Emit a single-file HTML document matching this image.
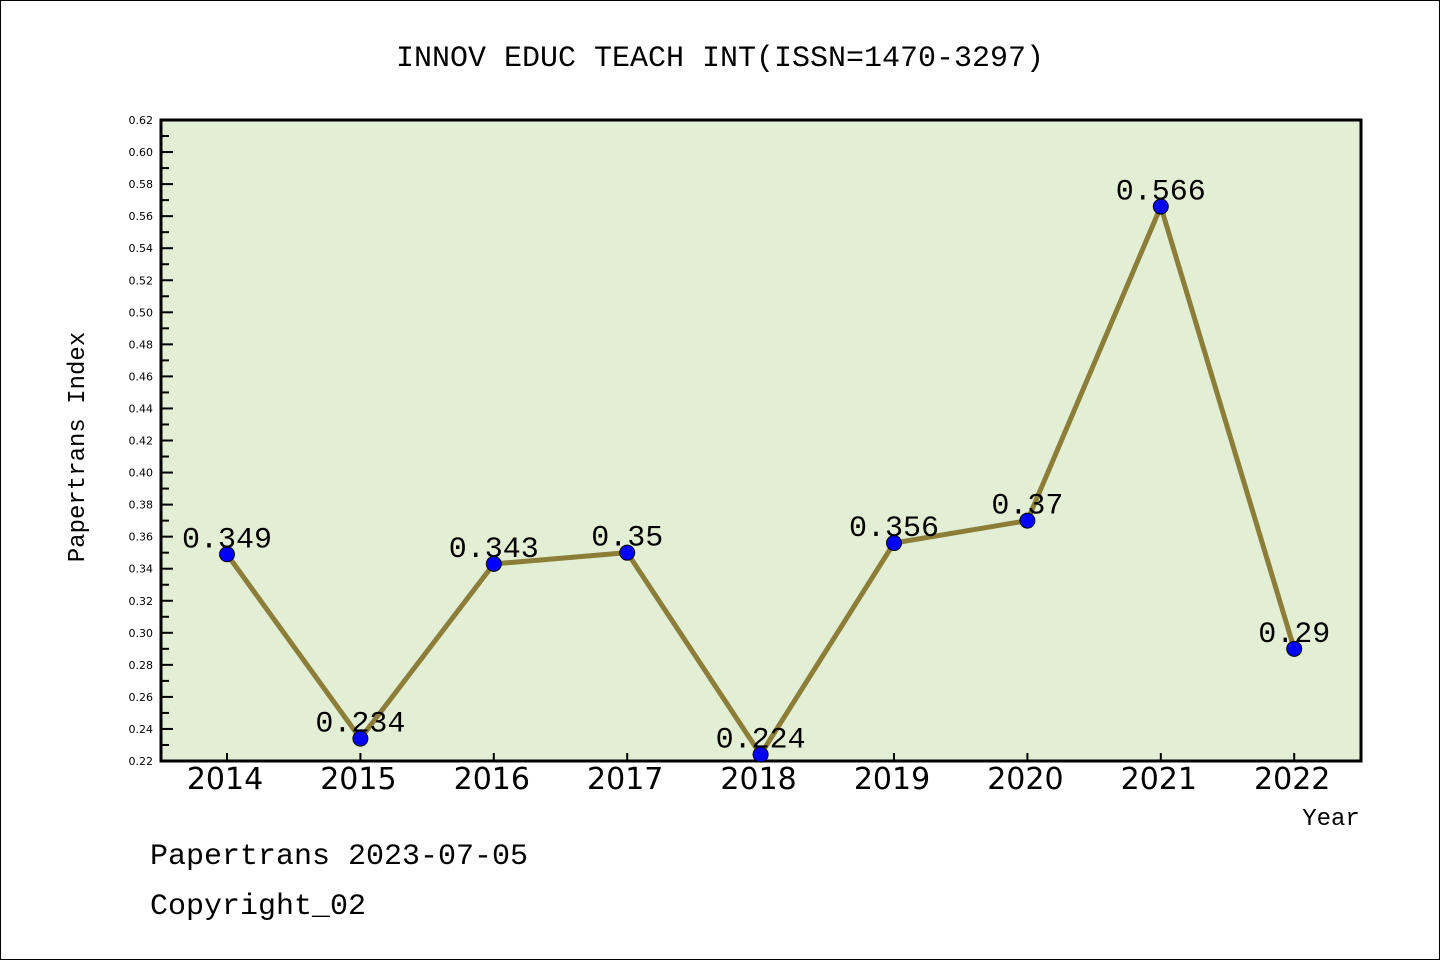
<!DOCTYPE html>
<html><head><meta charset="utf-8"><style>
body{margin:0;background:#fff}
svg text{font-family:"Liberation Mono","Noto Sans CJK SC",monospace}
</style></head><body>
<svg width="1440" height="960" xmlns="http://www.w3.org/2000/svg" id="svg">
<rect x="0.5" y="0.5" width="1439" height="959" fill="#fff" stroke="#000"/>
<text x="720" y="66" font-size="30" text-anchor="middle">INNOV EDUC TEACH INT(ISSN=1470-3297)</text>
<rect x="161" y="120" width="1200" height="641" fill="#e2efd4" stroke="#000" stroke-width="3"/>
<g id="yaxis"></g>
<g id="xaxis"></g>
<g id="series"></g>
<text transform="translate(84,447) rotate(-90)" font-size="24" text-anchor="middle">Papertrans Index</text>
<text x="1331" y="825" font-size="24" text-anchor="middle">Year</text>
<text x="150" y="864" font-size="30">Papertrans 2023-07-05</text>
<text x="150" y="914" font-size="30">Copyright_02</text>
</svg>
<script>
const years=["2014","2015","2016","2017","2018","2019","2020","2021","2022"];
const values=[0.349,0.234,0.343,0.35,0.224,0.356,0.37,0.566,0.29];
const labels=["0.349","0.234","0.343","0.35","0.224","0.356","0.37","0.566","0.29"];
const yTicks=[0.22,0.24,0.26,0.28,0.30,0.32,0.34,0.36,0.38,0.40,0.42,0.44,0.46,0.48,0.50,0.52,0.54,0.56,0.58,0.60,0.62];
const NS="http://www.w3.org/2000/svg";
const y=v=>761-(v-0.22)/(0.40)*641;
const x=i=>227+i*133.4;
function mk(t,a,p){const e=document.createElementNS(NS,t);for(const k in a)e.setAttribute(k,a[k]);p.appendChild(e);return e;}
const ya=document.getElementById('yaxis'),xa=document.getElementById('xaxis'),sr=document.getElementById('series');
yTicks.forEach((v,i)=>{
  const l=mk('line',{x1:161,x2:173,y1:y(v),y2:y(v),stroke:'#000','stroke-width':2},ya);
  
  
  const t=mk('text',{x:153,y:y(v)+4,'font-size':11,'text-anchor':'end',style:'font-family:"DejaVu Sans",sans-serif'},ya);
  t.textContent=v.toFixed(2);
  
  
  if(i<yTicks.length-1){const m=mk('line',{x1:161,x2:169,y1:y(v+0.01),y2:y(v+0.01),stroke:'#000','stroke-width':2},ya);
  
  }
});
years.forEach((yr,i)=>{
  const l=mk('line',{x1:x(i),x2:x(i),y1:761,y2:753,stroke:'#000','stroke-width':2},xa);
  
  
  const t=mk('text',{x:x(i)-2,y:789,'font-size':30,'text-anchor':'middle',style:'font-family:"DejaVu Sans",sans-serif'},xa);
  t.textContent=yr;
  
  
});
const pl=mk('polyline',{points:values.map((v,i)=>x(i)+','+y(v)).join(' '),fill:'none',stroke:'#8c7d38','stroke-width':5},sr);


values.forEach((v,i)=>{
  const c=mk('circle',{cx:x(i),cy:y(v),r:7.5,fill:'#0000ff',stroke:'#000','stroke-width':1},sr);
  
  
  const t=mk('text',{x:x(i),y:y(v)-7,'font-size':30,'text-anchor':'middle'},sr);
  t.textContent=labels[i];
  
  
});
</script>
</body></html>
